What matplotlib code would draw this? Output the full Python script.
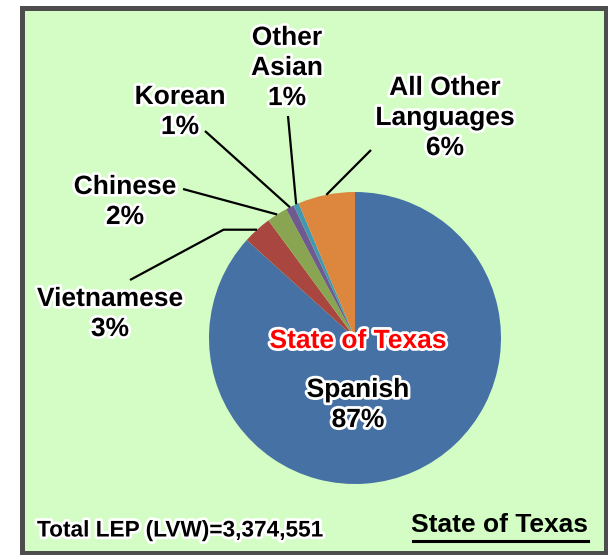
import numpy as np
import matplotlib
matplotlib.use("Agg")
import matplotlib.pyplot as plt
import matplotlib.patheffects as pe
from matplotlib.patches import Rectangle

# data
languages = ["Spanish", "Vietnamese", "Chinese", "Korean", "Other Asian", "All Other Languages"]
shares = [86.7, 3.2, 2.3, 0.9, 0.6, 6.3]
label_text = ["Spanish\n87%", "Vietnamese\n3%", "Chinese\n2%", "Korean\n1%",
              "Other\nAsian\n1%", "All Other\nLanguages\n6%"]
colors = ["#4671a5", "#a8463f", "#8aa552", "#6f5a8f", "#4597af", "#dc863e"]
total_text = "Total LEP (LVW)=3,374,551"
region = "State of Texas"

W, H = 608, 555
CX, CY, R = 355, 338, 146   # pie centre / radius in pixels


def px(x, y):
    # pixel position (top-left origin) -> axes data units
    return (x - CX) / R, (CY - y) / R


fig = plt.figure(figsize=(W / 100, H / 100), dpi=100)
fig.patch.set_facecolor("white")
fig.patches.append(Rectangle((21.5 / W, 2.5 / H), 584 / W, 545 / H,
                             transform=fig.transFigure, facecolor="#d3fdc4",
                             edgecolor="#4d4d4d", linewidth=3.6, zorder=-5))

ax = fig.add_axes([0, 0, 1, 1])
ax.patch.set_visible(False)

wedges, _ = ax.pie(shares, colors=colors, startangle=90, counterclock=False,
                   radius=1, center=(0, 0), frame=True)
ax.set_aspect("equal")
ax.set_xlim(-CX / R, (W - CX) / R)
ax.set_ylim(-(H - CY) / R, CY / R)
ax.axis("off")

outline = [pe.withStroke(linewidth=4, foreground="white")]
font = dict(family=["Liberation Sans", "DejaVu Sans"], fontweight="bold",
            fontsize=19, ha="center", va="center", linespacing=1.32,
            path_effects=outline, zorder=5)

# label positions (pixels) and leader line starts
label_pos = {
    "Spanish": (358, 405),
    "Vietnamese": (110, 314),
    "Chinese": (125, 202),
    "Korean": (180, 112),
    "Other Asian": (287, 68),
    "All Other Languages": (445, 118),
}
line_start = {
    "Vietnamese": (130, 280),
    "Chinese": (183, 189),
    "Korean": (205, 131),
    "Other Asian": (288, 116),
    "All Other Languages": (371, 150),
}

for name, txt, w in zip(languages, label_text, wedges):
    ax.text(*px(*label_pos[name]), txt, **font)
    if name not in line_start:
        continue
    mid = np.deg2rad((w.theta1 + w.theta2) / 2)
    ex, ey = np.cos(mid), np.sin(mid)
    sx, sy = px(*line_start[name])
    if name == "Vietnamese":
        xs, ys = [sx, ex - 0.23, ex], [sy, ey, ey]
    else:
        xs, ys = [sx, ex], [sy, ey]
    ax.plot(xs, ys, color="black", lw=1.6, zorder=4, solid_capstyle="butt")

ax.text(*px(358, 341), region, color="#ff0000", **font)

ax.text(*px(37, 530), total_text, family=["Liberation Sans", "DejaVu Sans"],
        fontweight="bold", fontsize=16.3, ha="left", va="center",
        path_effects=outline)
ax.text(*px(588, 525), region, family=["Liberation Sans", "DejaVu Sans"],
        fontweight="bold", fontsize=19, ha="right", va="center")
x0, y0 = px(413, 541)
x1, _ = px(588, 541)
ax.plot([x0, x1], [y0, y0], color="black", lw=2.2)

fig.savefig("out.png", dpi=100)
